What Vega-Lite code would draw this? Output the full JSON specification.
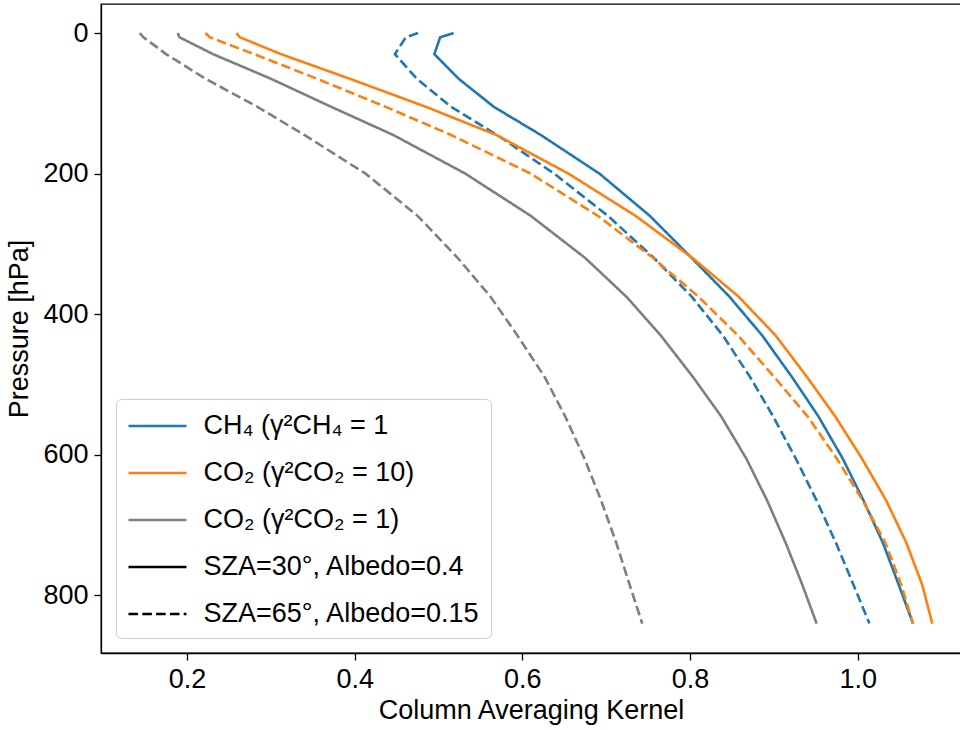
{
  "$schema": "https://vega.github.io/schema/vega-lite/v6.json",
  "width": 860,
  "height": 649,
  "autosize": {"type": "none"},
  "padding": {"left": 101, "top": 4, "right": 0, "bottom": 77},
  "background": "white",
  "config": {
    "view": {"stroke": "black", "strokeWidth": 1.3},
    "axis": {
      "grid": false,
      "domainColor": "black",
      "domainWidth": 1.3,
      "tickColor": "black",
      "tickWidth": 1.3,
      "tickSize": 7,
      "labelFont": "Liberation Sans",
      "labelFontSize": 27,
      "labelColor": "black",
      "labelPadding": 6,
      "titleFont": "Liberation Sans",
      "titleFontSize": 27,
      "titleFontWeight": "normal",
      "titleColor": "black"
    },
    "axisX": {"titlePadding": 5},
    "axisY": {"titlePadding": 9},
    "legend": {
      "orient": "bottom-left",
      "offset": 15,
      "padding": 11,
      "fillColor": "white",
      "strokeColor": "#cccccc",
      "cornerRadius": 5,
      "labelFont": "Liberation Sans",
      "labelFontSize": 27,
      "labelColor": "black",
      "labelLimit": 600,
      "labelOffset": 30,
      "symbolType": "M-2,0H2",
      "symbolSize": 841,
      "symbolOffset": 14.5,
      "symbolStrokeWidth": 2.6,
      "rowPadding": 18
    }
  },
  "data": {
    "values": [
      {"g": "CH₄ (γ²CH₄ = 1", "c": "SZA=30°, Albedo=0.4", "p": 0, "k": 0.518},
      {"g": "CH₄ (γ²CH₄ = 1", "c": "SZA=30°, Albedo=0.4", "p": 6, "k": 0.502},
      {"g": "CH₄ (γ²CH₄ = 1", "c": "SZA=30°, Albedo=0.4", "p": 30, "k": 0.495},
      {"g": "CH₄ (γ²CH₄ = 1", "c": "SZA=30°, Albedo=0.4", "p": 65, "k": 0.524},
      {"g": "CH₄ (γ²CH₄ = 1", "c": "SZA=30°, Albedo=0.4", "p": 105, "k": 0.566},
      {"g": "CH₄ (γ²CH₄ = 1", "c": "SZA=30°, Albedo=0.4", "p": 145, "k": 0.622},
      {"g": "CH₄ (γ²CH₄ = 1", "c": "SZA=30°, Albedo=0.4", "p": 200, "k": 0.692},
      {"g": "CH₄ (γ²CH₄ = 1", "c": "SZA=30°, Albedo=0.4", "p": 260, "k": 0.752},
      {"g": "CH₄ (γ²CH₄ = 1", "c": "SZA=30°, Albedo=0.4", "p": 320, "k": 0.802},
      {"g": "CH₄ (γ²CH₄ = 1", "c": "SZA=30°, Albedo=0.4", "p": 375, "k": 0.847},
      {"g": "CH₄ (γ²CH₄ = 1", "c": "SZA=30°, Albedo=0.4", "p": 430, "k": 0.886},
      {"g": "CH₄ (γ²CH₄ = 1", "c": "SZA=30°, Albedo=0.4", "p": 490, "k": 0.922},
      {"g": "CH₄ (γ²CH₄ = 1", "c": "SZA=30°, Albedo=0.4", "p": 545, "k": 0.953},
      {"g": "CH₄ (γ²CH₄ = 1", "c": "SZA=30°, Albedo=0.4", "p": 605, "k": 0.982},
      {"g": "CH₄ (γ²CH₄ = 1", "c": "SZA=30°, Albedo=0.4", "p": 665, "k": 1.007},
      {"g": "CH₄ (γ²CH₄ = 1", "c": "SZA=30°, Albedo=0.4", "p": 725, "k": 1.030},
      {"g": "CH₄ (γ²CH₄ = 1", "c": "SZA=30°, Albedo=0.4", "p": 785, "k": 1.049},
      {"g": "CH₄ (γ²CH₄ = 1", "c": "SZA=30°, Albedo=0.4", "p": 840, "k": 1.066},

      {"g": "CH₄ (γ²CH₄ = 1", "c": "SZA=65°, Albedo=0.15", "p": 0, "k": 0.4755},
      {"g": "CH₄ (γ²CH₄ = 1", "c": "SZA=65°, Albedo=0.15", "p": 6, "k": 0.461},
      {"g": "CH₄ (γ²CH₄ = 1", "c": "SZA=65°, Albedo=0.15", "p": 30, "k": 0.448},
      {"g": "CH₄ (γ²CH₄ = 1", "c": "SZA=65°, Albedo=0.15", "p": 65, "k": 0.474},
      {"g": "CH₄ (γ²CH₄ = 1", "c": "SZA=65°, Albedo=0.15", "p": 105, "k": 0.515},
      {"g": "CH₄ (γ²CH₄ = 1", "c": "SZA=65°, Albedo=0.15", "p": 145, "k": 0.570},
      {"g": "CH₄ (γ²CH₄ = 1", "c": "SZA=65°, Albedo=0.15", "p": 200, "k": 0.638},
      {"g": "CH₄ (γ²CH₄ = 1", "c": "SZA=65°, Albedo=0.15", "p": 260, "k": 0.702},
      {"g": "CH₄ (γ²CH₄ = 1", "c": "SZA=65°, Albedo=0.15", "p": 320, "k": 0.757},
      {"g": "CH₄ (γ²CH₄ = 1", "c": "SZA=65°, Albedo=0.15", "p": 375, "k": 0.802},
      {"g": "CH₄ (γ²CH₄ = 1", "c": "SZA=65°, Albedo=0.15", "p": 430, "k": 0.839},
      {"g": "CH₄ (γ²CH₄ = 1", "c": "SZA=65°, Albedo=0.15", "p": 490, "k": 0.872},
      {"g": "CH₄ (γ²CH₄ = 1", "c": "SZA=65°, Albedo=0.15", "p": 545, "k": 0.899},
      {"g": "CH₄ (γ²CH₄ = 1", "c": "SZA=65°, Albedo=0.15", "p": 605, "k": 0.926},
      {"g": "CH₄ (γ²CH₄ = 1", "c": "SZA=65°, Albedo=0.15", "p": 665, "k": 0.951},
      {"g": "CH₄ (γ²CH₄ = 1", "c": "SZA=65°, Albedo=0.15", "p": 725, "k": 0.974},
      {"g": "CH₄ (γ²CH₄ = 1", "c": "SZA=65°, Albedo=0.15", "p": 785, "k": 0.995},
      {"g": "CH₄ (γ²CH₄ = 1", "c": "SZA=65°, Albedo=0.15", "p": 840, "k": 1.014},

      {"g": "CO₂ (γ²CO₂ = 10)", "c": "SZA=30°, Albedo=0.4", "p": 0, "k": 0.259},
      {"g": "CO₂ (γ²CO₂ = 10)", "c": "SZA=30°, Albedo=0.4", "p": 6, "k": 0.263},
      {"g": "CO₂ (γ²CO₂ = 10)", "c": "SZA=30°, Albedo=0.4", "p": 30, "k": 0.312},
      {"g": "CO₂ (γ²CO₂ = 10)", "c": "SZA=30°, Albedo=0.4", "p": 65, "k": 0.394},
      {"g": "CO₂ (γ²CO₂ = 10)", "c": "SZA=30°, Albedo=0.4", "p": 105, "k": 0.485},
      {"g": "CO₂ (γ²CO₂ = 10)", "c": "SZA=30°, Albedo=0.4", "p": 145, "k": 0.569},
      {"g": "CO₂ (γ²CO₂ = 10)", "c": "SZA=30°, Albedo=0.4", "p": 200, "k": 0.655},
      {"g": "CO₂ (γ²CO₂ = 10)", "c": "SZA=30°, Albedo=0.4", "p": 260, "k": 0.735},
      {"g": "CO₂ (γ²CO₂ = 10)", "c": "SZA=30°, Albedo=0.4", "p": 320, "k": 0.803},
      {"g": "CO₂ (γ²CO₂ = 10)", "c": "SZA=30°, Albedo=0.4", "p": 375, "k": 0.858},
      {"g": "CO₂ (γ²CO₂ = 10)", "c": "SZA=30°, Albedo=0.4", "p": 430, "k": 0.902},
      {"g": "CO₂ (γ²CO₂ = 10)", "c": "SZA=30°, Albedo=0.4", "p": 490, "k": 0.940},
      {"g": "CO₂ (γ²CO₂ = 10)", "c": "SZA=30°, Albedo=0.4", "p": 545, "k": 0.973},
      {"g": "CO₂ (γ²CO₂ = 10)", "c": "SZA=30°, Albedo=0.4", "p": 605, "k": 1.005},
      {"g": "CO₂ (γ²CO₂ = 10)", "c": "SZA=30°, Albedo=0.4", "p": 665, "k": 1.034},
      {"g": "CO₂ (γ²CO₂ = 10)", "c": "SZA=30°, Albedo=0.4", "p": 725, "k": 1.058},
      {"g": "CO₂ (γ²CO₂ = 10)", "c": "SZA=30°, Albedo=0.4", "p": 785, "k": 1.077},
      {"g": "CO₂ (γ²CO₂ = 10)", "c": "SZA=30°, Albedo=0.4", "p": 840, "k": 1.089},

      {"g": "CO₂ (γ²CO₂ = 10)", "c": "SZA=65°, Albedo=0.15", "p": 0, "k": 0.222},
      {"g": "CO₂ (γ²CO₂ = 10)", "c": "SZA=65°, Albedo=0.15", "p": 6, "k": 0.227},
      {"g": "CO₂ (γ²CO₂ = 10)", "c": "SZA=65°, Albedo=0.15", "p": 30, "k": 0.280},
      {"g": "CO₂ (γ²CO₂ = 10)", "c": "SZA=65°, Albedo=0.15", "p": 65, "k": 0.355},
      {"g": "CO₂ (γ²CO₂ = 10)", "c": "SZA=65°, Albedo=0.15", "p": 105, "k": 0.437},
      {"g": "CO₂ (γ²CO₂ = 10)", "c": "SZA=65°, Albedo=0.15", "p": 145, "k": 0.515},
      {"g": "CO₂ (γ²CO₂ = 10)", "c": "SZA=65°, Albedo=0.15", "p": 200, "k": 0.610},
      {"g": "CO₂ (γ²CO₂ = 10)", "c": "SZA=65°, Albedo=0.15", "p": 260, "k": 0.690},
      {"g": "CO₂ (γ²CO₂ = 10)", "c": "SZA=65°, Albedo=0.15", "p": 320, "k": 0.756},
      {"g": "CO₂ (γ²CO₂ = 10)", "c": "SZA=65°, Albedo=0.15", "p": 375, "k": 0.810},
      {"g": "CO₂ (γ²CO₂ = 10)", "c": "SZA=65°, Albedo=0.15", "p": 430, "k": 0.857},
      {"g": "CO₂ (γ²CO₂ = 10)", "c": "SZA=65°, Albedo=0.15", "p": 490, "k": 0.901},
      {"g": "CO₂ (γ²CO₂ = 10)", "c": "SZA=65°, Albedo=0.15", "p": 545, "k": 0.940},
      {"g": "CO₂ (γ²CO₂ = 10)", "c": "SZA=65°, Albedo=0.15", "p": 605, "k": 0.975},
      {"g": "CO₂ (γ²CO₂ = 10)", "c": "SZA=65°, Albedo=0.15", "p": 665, "k": 1.006},
      {"g": "CO₂ (γ²CO₂ = 10)", "c": "SZA=65°, Albedo=0.15", "p": 725, "k": 1.033},
      {"g": "CO₂ (γ²CO₂ = 10)", "c": "SZA=65°, Albedo=0.15", "p": 785, "k": 1.052},
      {"g": "CO₂ (γ²CO₂ = 10)", "c": "SZA=65°, Albedo=0.15", "p": 840, "k": 1.066},

      {"g": "CO₂ (γ²CO₂ = 1)", "c": "SZA=30°, Albedo=0.4", "p": 0, "k": 0.189},
      {"g": "CO₂ (γ²CO₂ = 1)", "c": "SZA=30°, Albedo=0.4", "p": 6, "k": 0.191},
      {"g": "CO₂ (γ²CO₂ = 1)", "c": "SZA=30°, Albedo=0.4", "p": 30, "k": 0.231},
      {"g": "CO₂ (γ²CO₂ = 1)", "c": "SZA=30°, Albedo=0.4", "p": 65, "k": 0.300},
      {"g": "CO₂ (γ²CO₂ = 1)", "c": "SZA=30°, Albedo=0.4", "p": 105, "k": 0.372},
      {"g": "CO₂ (γ²CO₂ = 1)", "c": "SZA=30°, Albedo=0.4", "p": 145, "k": 0.446},
      {"g": "CO₂ (γ²CO₂ = 1)", "c": "SZA=30°, Albedo=0.4", "p": 200, "k": 0.532},
      {"g": "CO₂ (γ²CO₂ = 1)", "c": "SZA=30°, Albedo=0.4", "p": 260, "k": 0.610},
      {"g": "CO₂ (γ²CO₂ = 1)", "c": "SZA=30°, Albedo=0.4", "p": 320, "k": 0.675},
      {"g": "CO₂ (γ²CO₂ = 1)", "c": "SZA=30°, Albedo=0.4", "p": 375, "k": 0.724},
      {"g": "CO₂ (γ²CO₂ = 1)", "c": "SZA=30°, Albedo=0.4", "p": 430, "k": 0.765},
      {"g": "CO₂ (γ²CO₂ = 1)", "c": "SZA=30°, Albedo=0.4", "p": 490, "k": 0.804},
      {"g": "CO₂ (γ²CO₂ = 1)", "c": "SZA=30°, Albedo=0.4", "p": 545, "k": 0.837},
      {"g": "CO₂ (γ²CO₂ = 1)", "c": "SZA=30°, Albedo=0.4", "p": 605, "k": 0.867},
      {"g": "CO₂ (γ²CO₂ = 1)", "c": "SZA=30°, Albedo=0.4", "p": 665, "k": 0.892},
      {"g": "CO₂ (γ²CO₂ = 1)", "c": "SZA=30°, Albedo=0.4", "p": 725, "k": 0.914},
      {"g": "CO₂ (γ²CO₂ = 1)", "c": "SZA=30°, Albedo=0.4", "p": 785, "k": 0.934},
      {"g": "CO₂ (γ²CO₂ = 1)", "c": "SZA=30°, Albedo=0.4", "p": 840, "k": 0.951},

      {"g": "CO₂ (γ²CO₂ = 1)", "c": "SZA=65°, Albedo=0.15", "p": 0, "k": 0.1436},
      {"g": "CO₂ (γ²CO₂ = 1)", "c": "SZA=65°, Albedo=0.15", "p": 6, "k": 0.148},
      {"g": "CO₂ (γ²CO₂ = 1)", "c": "SZA=65°, Albedo=0.15", "p": 30, "k": 0.175},
      {"g": "CO₂ (γ²CO₂ = 1)", "c": "SZA=65°, Albedo=0.15", "p": 65, "k": 0.222},
      {"g": "CO₂ (γ²CO₂ = 1)", "c": "SZA=65°, Albedo=0.15", "p": 105, "k": 0.284},
      {"g": "CO₂ (γ²CO₂ = 1)", "c": "SZA=65°, Albedo=0.15", "p": 145, "k": 0.340},
      {"g": "CO₂ (γ²CO₂ = 1)", "c": "SZA=65°, Albedo=0.15", "p": 200, "k": 0.413},
      {"g": "CO₂ (γ²CO₂ = 1)", "c": "SZA=65°, Albedo=0.15", "p": 260, "k": 0.475},
      {"g": "CO₂ (γ²CO₂ = 1)", "c": "SZA=65°, Albedo=0.15", "p": 320, "k": 0.523},
      {"g": "CO₂ (γ²CO₂ = 1)", "c": "SZA=65°, Albedo=0.15", "p": 375, "k": 0.562},
      {"g": "CO₂ (γ²CO₂ = 1)", "c": "SZA=65°, Albedo=0.15", "p": 430, "k": 0.594},
      {"g": "CO₂ (γ²CO₂ = 1)", "c": "SZA=65°, Albedo=0.15", "p": 490, "k": 0.627},
      {"g": "CO₂ (γ²CO₂ = 1)", "c": "SZA=65°, Albedo=0.15", "p": 545, "k": 0.651},
      {"g": "CO₂ (γ²CO₂ = 1)", "c": "SZA=65°, Albedo=0.15", "p": 605, "k": 0.674},
      {"g": "CO₂ (γ²CO₂ = 1)", "c": "SZA=65°, Albedo=0.15", "p": 665, "k": 0.694},
      {"g": "CO₂ (γ²CO₂ = 1)", "c": "SZA=65°, Albedo=0.15", "p": 725, "k": 0.712},
      {"g": "CO₂ (γ²CO₂ = 1)", "c": "SZA=65°, Albedo=0.15", "p": 785, "k": 0.728},
      {"g": "CO₂ (γ²CO₂ = 1)", "c": "SZA=65°, Albedo=0.15", "p": 840, "k": 0.743}
    ]
  },
  "mark": {"type": "line", "strokeWidth": 2.6, "clip": true},
  "encoding": {
    "x": {
      "field": "k",
      "type": "quantitative",
      "scale": {"domain": [0.0974, 1.1232], "nice": false, "zero": false},
      "axis": {"values": [0.2, 0.4, 0.6, 0.8, 1.0], "format": ".1f", "title": "Column Averaging Kernel"}
    },
    "y": {
      "field": "p",
      "type": "quantitative",
      "scale": {"domain": [-41.3, 881.8], "reverse": true, "nice": false, "zero": false},
      "axis": {"values": [0, 200, 400, 600, 800], "title": "Pressure [hPa]"}
    },
    "color": {
      "field": "g",
      "type": "nominal",
      "title": null,
      "scale": {
        "domain": ["CH₄ (γ²CH₄ = 1", "CO₂ (γ²CO₂ = 10)", "CO₂ (γ²CO₂ = 1)", "SZA=30°, Albedo=0.4", "SZA=65°, Albedo=0.15"],
        "range": ["#1f77b4", "#ff7f0e", "#7f7f7f", "#000000", "#000000"]
      }
    },
    "strokeDash": {
      "field": "c",
      "type": "nominal",
      "title": null,
      "scale": {
        "domain": ["CH₄ (γ²CH₄ = 1", "CO₂ (γ²CO₂ = 10)", "CO₂ (γ²CO₂ = 1)", "SZA=30°, Albedo=0.4", "SZA=65°, Albedo=0.15"],
        "range": [[1, 0], [1, 0], [1, 0], [1, 0], [9.6, 4.2]]
      }
    },
    "order": {"field": "p", "type": "quantitative"}
  }
}
